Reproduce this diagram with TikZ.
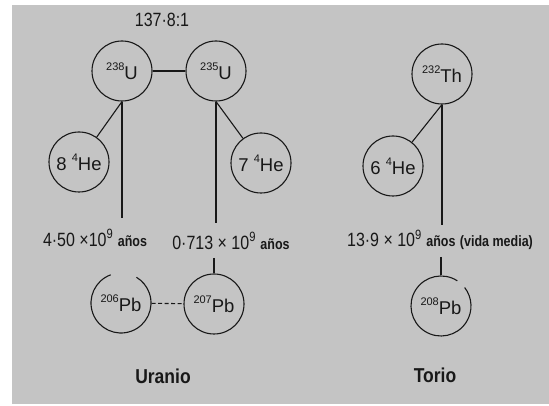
\documentclass[tikz,border=0pt]{standalone}
\usepackage{fontspec}
\setmainfont{Liberation Sans}
\definecolor{bg}{RGB}{196,196,196}
\definecolor{ink}{RGB}{24,24,24}
% mass number set as a small raised prefix
\newcommand{\iso}[2]{\raisebox{0.5em}{\fontsize{11}{11}\selectfont #1}#2}
\newcommand{\yrs}{{\bfseries\fontsize{12.5}{12.5}\selectfont años}}
\tikzset{
  nuc/.style={circle, draw=ink, line width=1.1pt, minimum size=60pt,
    inner sep=0pt, font=\fontsize{18.5}{18.5}\selectfont, text=ink},
  link/.style={draw=ink, line width=1.1pt},
  lbl/.style={font=\fontsize{16}{16}\selectfont, text=ink, inner sep=0pt,
    yscale=1.2, transform shape},
  chain/.style={font=\bfseries\fontsize{17.5}{17.5}\selectfont, text=ink, inner sep=0pt,
    yscale=1.15, transform shape}
}
\begin{document}
\begin{tikzpicture}[x=1pt,y=1pt]
\useasboundingbox (0,0) rectangle (549,406);
\fill[white] (0,0) rectangle (549,406);
\fill[bg] (12,2) rectangle (549,401);

% uranium series
\node[lbl] (ratio) at (162,386) {137·8:1};
\node[nuc] (u238) at (122,335) {\iso{238}{U}};
\node[nuc] (u235) at (216,335) {\iso{235}{U}};
\node[nuc] (he8) at (79,244) {8 \iso{4}{He}};
\node[nuc] (he7) at (261,243) {7 \iso{4}{He}};
\draw[link] (u238) -- (u235);
\coordinate (u238end) at (122,188);
\coordinate (u235end) at (216,183);
\draw[link] (u238.south) -- (u238end);
\draw[link] (u238.south) -- (he8);
\draw[link] (u235.south) -- (u235end);
\draw[link] (u235.south) -- (he7);
\node[lbl] (t238) at (95,168) {4·50 ×10\textsuperscript{9} \yrs};
\node[lbl] (t235) at (231,165) {0·713 × 10\textsuperscript{9} \yrs};

\node[nuc, draw=none] (pb206) at (121,103) {\iso{206}{Pb}};
\node[nuc] (pb207) at (214,102) {\iso{207}{Pb}};
\draw[link] ([shift={(110:30pt)}]pb206.center) arc[start angle=110, end angle=419, radius=30pt];
\coordinate (pb207top) at (214,148);
\draw[link] (pb207top) -- (pb207.north);
\draw[link, dash pattern=on 4pt off 2.5pt] (pb206) -- (pb207);
\node[chain] (uranio) at (163,30) {Uranio};

% thorium series
\node[nuc] (th232) at (442,332) {\iso{232}{Th}};
\node[nuc] (he6) at (393,240) {6 \iso{4}{He}};
\coordinate (thend) at (442,181);
\draw[link] (th232.south) -- (thend);
\draw[link] (th232.south) -- (he6);
\node[lbl] (t232) at (440,166) {13·9 × 10\textsuperscript{9} \yrs\ {\bfseries\fontsize{12.5}{12.5}\selectfont (vida media)}};
\node[nuc, draw=none] (pb208) at (441,100) {\iso{208}{Pb}};
\draw[link] ([shift={(57:30pt)}]pb208.center) arc[start angle=57, end angle=398, radius=30pt];
\coordinate (pb208top) at (441,149);
\draw[link] (pb208top) -- (pb208.north);
\node[chain] (torio) at (435,31) {Torio};
\end{tikzpicture}
\end{document}
